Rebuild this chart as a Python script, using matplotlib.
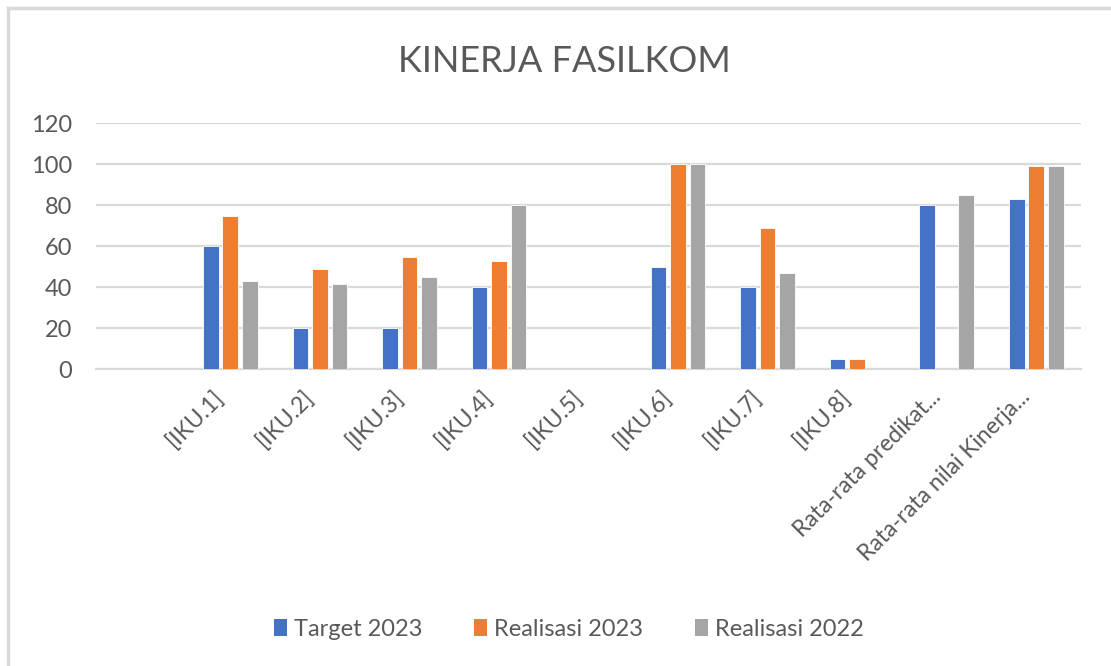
import numpy as np
import matplotlib
matplotlib.use("Agg")
import matplotlib.pyplot as plt
import matplotlib.transforms as mtransforms
from matplotlib.patches import Patch
from matplotlib.lines import Line2D

# --- data --------------------------------------------------------------------
categories = ["", "[IKU.1]", "[IKU.2]", "[IKU.3]", "[IKU.4]", "[IKU.5]",
              "[IKU.6]", "[IKU.7]", "[IKU.8]",
              "Rata-rata predikat...", "Rata-rata nilai Kinerja..."]
target_2023    = [None, 60, 20, 20, 40, None, 50, 40, 5, 80, 83]
realisasi_2023 = [None, 75, 49, 55, 53, None, 100, 69, 5, None, 99]
realisasi_2022 = [None, 43, 41.5, 45, 80, None, 100, 47, None, 85, 99]
series_names = ["Target 2023", "Realisasi 2023", "Realisasi 2022"]
y_ticks = [0, 20, 40, 60, 80, 100, 120]

COLORS = ["#4472C4", "#ED7D31", "#A5A5A5"]
TXT = "#595959"
GRID = "#D9D9D9"
FONT = "Lato"

plt.rcParams["font.family"] = [FONT, "DejaVu Sans"]

fig = plt.figure(figsize=(11.11, 6.66), dpi=100)
ax = fig.add_axes([96/1111, 1-369.3/666, 985/1111, 246/666])

x = np.arange(len(categories))
pitch, width = 0.218, 0.175
for i, (vals, col) in enumerate(zip([target_2023, realisasi_2023, realisasi_2022], COLORS)):
    v = np.array([np.nan if a is None else a for a in vals], dtype=float)
    ax.bar(x + (i-1)*pitch, v, width=width, color=col, edgecolor="white",
           linewidth=0.6, zorder=3)

ax.set_xlim(-0.5, len(categories)-0.5)
ax.set_ylim(0, 120)
ax.set_yticks(y_ticks)
ax.yaxis.grid(True, color=GRID, lw=1.6, zorder=0)
ax.set_axisbelow(True)
for s in ["top", "right", "left"]:
    ax.spines[s].set_visible(False)
ax.spines["bottom"].set_color(GRID)
ax.spines["bottom"].set_linewidth(1.6)
ax.tick_params(axis="y", length=0, pad=17, labelsize=17, labelcolor=TXT)
ax.tick_params(axis="x", length=0, pad=12, labelsize=16.5, labelcolor=TXT)
ax.set_xticks(x)
ax.set_xticklabels(categories, rotation=45, ha="right", va="top",
                   rotation_mode="anchor")
shift = mtransforms.ScaledTranslation(-0.17, 0, fig.dpi_scale_trans)
for lab in ax.get_xticklabels():
    lab.set_transform(lab.get_transform() + shift)

fig.text(0.508, 1-62/666, "KINERJA FASILKOM", ha="center", va="center",
         fontsize=26, color=TXT)

handles = [Patch(facecolor=c, edgecolor="none") for c in COLORS]
fig.legend(handles, series_names, loc="center", bbox_to_anchor=(0.512, 1-629/666),
           ncol=3, frameon=False, fontsize=17, labelcolor=TXT,
           handlelength=0.55, handleheight=0.75, handletextpad=0.3,
           columnspacing=2.2)

# chart-area border (only top and left visible in the crop)
fig.add_artist(Line2D([8/1111, 8/1111], [0, 1-8/666], color=GRID, lw=2.5,
                      transform=fig.transFigure))
fig.add_artist(Line2D([8/1111, 1], [1-8/666, 1-8/666], color=GRID, lw=2.5,
                      transform=fig.transFigure))

fig.savefig("out.png", dpi=100, facecolor="white")
